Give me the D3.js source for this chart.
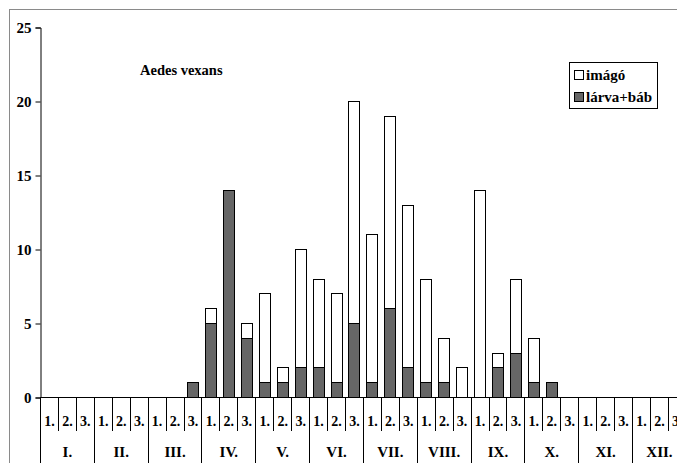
<!DOCTYPE html>
<html>
<head>
<meta charset="utf-8">
<script src="https://cdn.jsdelivr.net/npm/d3@7/dist/d3.min.js"></script>
<style>
  html, body { margin: 0; padding: 0; background: #fff; overflow: hidden; }
  svg { display: block; }
  svg text { font-family: "Times New Roman", "Liberation Serif", "DejaVu Serif", serif !important; font-weight: bold; fill: #000; }
</style>
</head>
<body>
<svg id="chart" width="677" height="463"></svg>
<script>
const months = ["I.", "II.", "III.", "IV.", "V.", "VI.", "VII.", "VIII.", "IX.", "X.", "XI.", "XII."];
const decades = ["1.", "2.", "3."];
const larva = [0,0,0, 0,0,0, 0,0,1, 5,14,4, 1,1,2, 2,1,5, 1,6,2, 1,1,0, 0,2,3, 1,1,0, 0,0,0, 0,0,0];
const imago = [0,0,0, 0,0,0, 0,0,0, 1,0,1, 6,1,8, 6,6,15, 10,13,11, 7,3,2, 14,1,5, 3,0,0, 0,0,0, 0,0,0];
const yTicks = [0, 5, 10, 15, 20, 25];
const seriesNames = ["imágó", "lárva+báb"];
const title = "Aedes vexans";

const FONT = "'Times New Roman', 'Liberation Serif', 'DejaVu Serif', serif";
const svg = d3.select("#chart");
const x0 = 40, cellW = 17.94, nCells = months.length * decades.length;
const yBase = 397, yTop = 27;

const keys = d3.range(nCells);
const x = d3.scaleBand().domain(keys).range([x0, x0 + nCells * cellW]).paddingInner(0.39).paddingOuter(0.195);
const y = d3.scaleLinear().domain([0, 25]).range([yBase, yTop]);

// outer frame (clipped on right/bottom)
svg.append("rect").attr("x", 9.5).attr("y", 9.5).attr("width", 700).attr("height", 500)
  .attr("fill", "none").attr("stroke", "#8a8a8a").attr("stroke-width", 1);

// stacked data
const rows = keys.map(i => ({ i, larva: larva[i], imago: imago[i] }));
const stack = d3.stack().keys(["larva", "imago"])(rows);
const fills = { larva: "#666666", imago: "#ffffff" };

stack.forEach(layer => {
  svg.append("g").selectAll("rect")
    .data(layer.filter(d => d[1] - d[0] > 0))
    .join("rect")
    .attr("x", d => Math.round(x(d.data.i)) + 0.5)
    .attr("width", Math.round(x.bandwidth()))
    .attr("y", d => Math.round(y(d[1])) + 0.5)
    .attr("height", d => Math.round(y(d[0])) - Math.round(y(d[1])))
    .attr("fill", fills[layer.key])
    .attr("stroke", "#000").attr("stroke-width", 1);
});

// y axis
const yAxis = d3.axisLeft(y).tickValues(yTicks).tickSize(5).tickPadding(4).tickFormat(d3.format("d"));
const gy = svg.append("g").attr("transform", `translate(${x0 + 0.5},0.5)`).call(yAxis)
  .attr("font-family", FONT).attr("font-size", 15);
gy.select(".domain").attr("stroke", "#000");
gy.selectAll(".tick line").attr("stroke", "#000");
gy.selectAll(".tick text").attr("font-family", FONT).attr("font-weight", "bold").attr("font-size", 15).attr("fill", "#000");

// x axis line
svg.append("line").attr("x1", x0).attr("x2", x0 + nCells * cellW + 2)
  .attr("y1", yBase + 0.5).attr("y2", yBase + 0.5).attr("stroke", "#000");

// cell boundaries
const bounds = d3.range(nCells + 1);
svg.append("g").selectAll("line").data(bounds).join("line")
  .attr("x1", i => Math.round(x0 + i * cellW) + 0.5)
  .attr("x2", i => Math.round(x0 + i * cellW) + 0.5)
  .attr("y1", yBase)
  .attr("y2", i => (i % 3 === 0) ? 470 : 431)
  .attr("stroke", "#000").attr("stroke-width", 1);

// decade labels
svg.append("g").attr("font-family", FONT).selectAll("text").data(keys).join("text")
  .attr("x", i => x0 + (i + 0.5) * cellW + 0.5)
  .attr("y", 426)
  .attr("text-anchor", "middle")
  .attr("font-size", 14)
  .text(i => decades[i % 3]);

// month labels
svg.append("g").attr("font-family", FONT).selectAll("text").data(months).join("text")
  .attr("x", (m, j) => x0 + (j * 3 + 1.5) * cellW + 0.5)
  .attr("y", 457)
  .attr("text-anchor", "middle")
  .attr("font-size", 15)
  .text(m => m);

// title
svg.append("text").attr("font-family", FONT).attr("x", 140).attr("y", 75).attr("font-size", 14.5).text(title);

// legend
const lg = svg.append("g").attr("font-family", FONT);
lg.append("rect").attr("x", 569.5).attr("y", 62.5).attr("width", 88).attr("height", 46)
  .attr("fill", "#fff").attr("stroke", "#000");
[["imago", 0], ["larva", 1]].forEach(([k, j]) => {
  lg.append("rect").attr("x", 574.5).attr("y", 70.5 + j * 22).attr("width", 9).attr("height", 9)
    .attr("fill", fills[k]).attr("stroke", "#000");
  lg.append("text").attr("x", 586).attr("y", 80 + j * 22).attr("font-size", 15).text(seriesNames[j]);
});
</script>
</body>
</html>
